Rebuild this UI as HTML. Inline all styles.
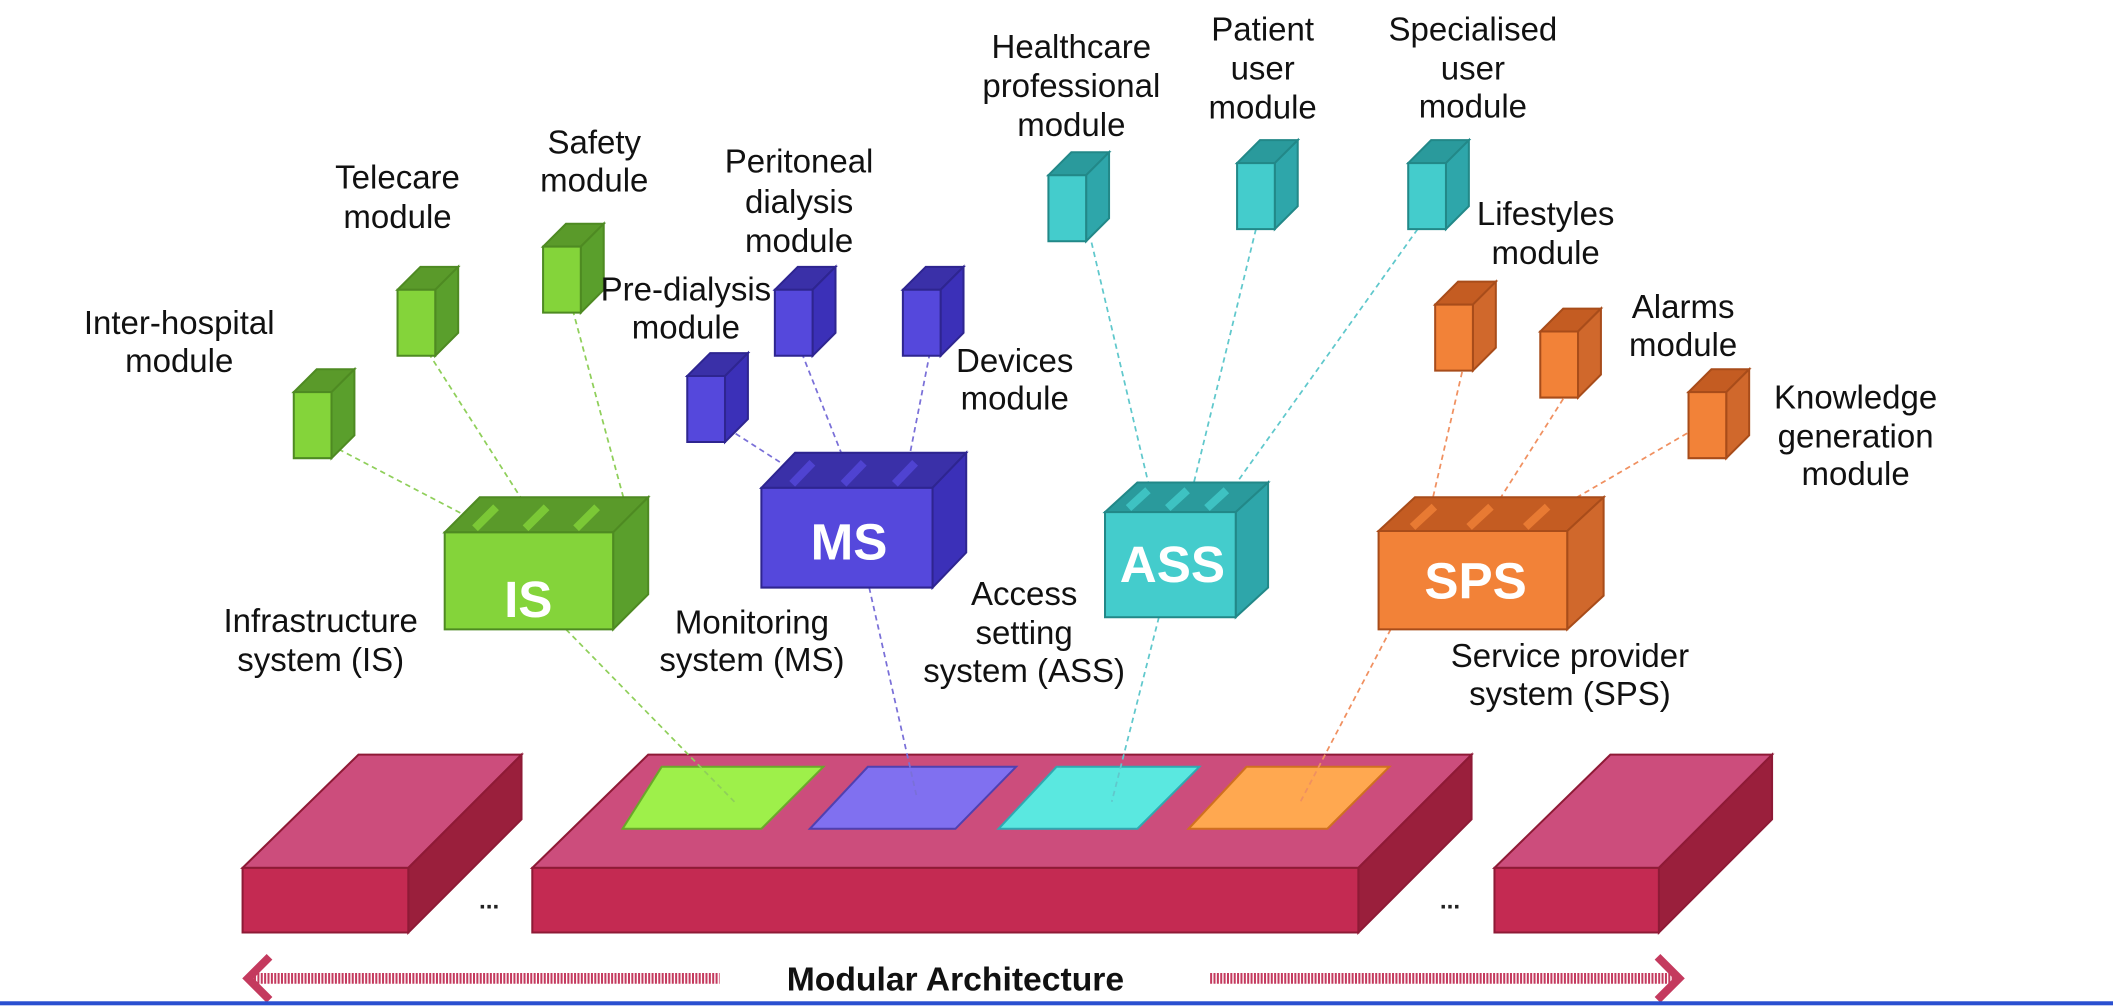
<!DOCTYPE html>
<html><head><meta charset="utf-8"><style>
html,body{margin:0;padding:0;background:#fff;}
svg{display:block;}
text{font-family:"Liberation Sans",sans-serif;}
.l{font-size:24.5px;fill:#111;text-anchor:middle;}
.b{font-size:38px;font-weight:bold;fill:#fff;text-anchor:middle;}
</style></head><body>
<svg id="s" width="2113" height="1006" viewBox="0 0 1568 746.5" xmlns="http://www.w3.org/2000/svg">
<g id="lines" fill="none" stroke-width="1.3" stroke-dasharray="4,3">
<g stroke="#8fcf5a">
<line x1="245" y1="330" x2="350" y2="385"/><line x1="318" y1="262" x2="392" y2="378"/><line x1="425" y1="230" x2="465" y2="378"/>
<line x1="420" y1="467" x2="545" y2="595"/></g>
<g stroke="#7a70d8">
<line x1="540" y1="318" x2="582" y2="345"/><line x1="595" y1="262" x2="625" y2="338"/><line x1="690" y1="262" x2="675" y2="338"/>
<line x1="645" y1="436" x2="680" y2="590"/></g>
<g stroke="#60c8cc">
<line x1="810" y1="180" x2="853" y2="362"/><line x1="932" y1="170" x2="885" y2="362"/><line x1="1052" y1="170" x2="915" y2="362"/>
<line x1="860" y1="458" x2="825" y2="595"/></g>
<g stroke="#f09060">
<line x1="1085" y1="276" x2="1062" y2="375"/><line x1="1160" y1="296" x2="1110" y2="375"/><line x1="1258" y1="318" x2="1160" y2="375"/>
<line x1="1032" y1="467" x2="965" y2="595"/></g>
</g>
<g id="cubes"></g>
<g id="plat"></g>
<text class="b" x="392" y="458">IS</text>
<text class="b" x="630" y="415">MS</text>
<text class="b" x="870" y="432">ASS</text>
<text class="b" x="1095" y="444">SPS</text>
<g>
<text class="l" x="133" y="248">Inter-hospital</text><text class="l" x="133" y="276">module</text>
<text class="l" x="295" y="140">Telecare</text><text class="l" x="295" y="169">module</text>
<text class="l" x="441" y="114">Safety</text><text class="l" x="441" y="142">module</text>
<text class="l" x="593" y="128">Peritoneal</text><text class="l" x="593" y="158">dialysis</text><text class="l" x="593" y="187">module</text>
<text class="l" x="509" y="223">Pre-dialysis</text><text class="l" x="509" y="251">module</text>
<text class="l" x="753" y="276">Devices</text><text class="l" x="753" y="304">module</text>
<text class="l" x="795" y="43">Healthcare</text><text class="l" x="795" y="72">professional</text><text class="l" x="795" y="101">module</text>
<text class="l" x="937" y="30">Patient</text><text class="l" x="937" y="59">user</text><text class="l" x="937" y="88">module</text>
<text class="l" x="1093" y="30">Specialised</text><text class="l" x="1093" y="59">user</text><text class="l" x="1093" y="87">module</text>
<text class="l" x="1147" y="167">Lifestyles</text><text class="l" x="1147" y="196">module</text>
<text class="l" x="1249" y="236">Alarms</text><text class="l" x="1249" y="264">module</text>
<text class="l" x="1377" y="303">Knowledge</text><text class="l" x="1377" y="332">generation</text><text class="l" x="1377" y="360">module</text>
<text class="l" x="238" y="469">Infrastructure</text><text class="l" x="238" y="498">system (IS)</text>
<text class="l" x="558" y="470">Monitoring</text><text class="l" x="558" y="498">system (MS)</text>
<text class="l" x="760" y="449">Access</text><text class="l" x="760" y="478">setting</text><text class="l" x="760" y="506">system (ASS)</text>
<text class="l" x="1165" y="495">Service provider</text><text class="l" x="1165" y="523">system (SPS)</text>
</g>
<text x="363" y="674" font-size="18" font-weight="bold" text-anchor="middle" fill="#222">...</text>
<text x="1076" y="674" font-size="18" font-weight="bold" text-anchor="middle" fill="#222">...</text>
<g stroke="#c43a5e" fill="none">
<line x1="186" y1="726" x2="534" y2="726" stroke-width="8" stroke-dasharray="1.5,1"/>
<line x1="898" y1="726" x2="1242" y2="726" stroke-width="8" stroke-dasharray="1.5,1"/>
<polyline points="200,710 184,726 200,742" stroke-width="6"/>
<polyline points="1230,710 1246,726 1230,742" stroke-width="6"/>
</g>
<text x="709" y="735" font-size="25" font-weight="bold" text-anchor="middle" fill="#111">Modular Architecture</text>
<rect x="0" y="743" width="1568" height="3" fill="#2a4fd0"/>
</svg>
<script>
var NS="http://www.w3.org/2000/svg";
function poly(g,pts,fill,stroke){var p=document.createElementNS(NS,"polygon");p.setAttribute("points",pts.map(function(a){return a.join(",")}).join(" "));p.setAttribute("fill",fill);if(stroke){p.setAttribute("stroke",stroke);p.setAttribute("stroke-width","1.5");}g.appendChild(p);}
function cube(g,x,y,w,h,dx,dy,c,stripes){
poly(g,[[x,y],[x+w,y],[x+w+dx,y+dy],[x+dx,y+dy]],c[1],c[3]);
poly(g,[[x+w,y],[x+w+dx,y+dy],[x+w+dx,y+h+dy],[x+w,y+h]],c[2],c[3]);
poly(g,[[x,y],[x+w,y],[x+w,y+h],[x,y+h]],c[0],c[3]);
if(stripes){for(var i=0;i<3;i++){var sx=x+w*(0.18+i*0.3);var l=document.createElementNS(NS,"line");l.setAttribute("x1",sx);l.setAttribute("y1",y-3);l.setAttribute("x2",sx+dx*0.6);l.setAttribute("y2",y+dy*0.6-3);l.setAttribute("stroke",c[0]);l.setAttribute("stroke-width","6");l.setAttribute("opacity","0.8");g.appendChild(l);}}
}
var cg=document.getElementById("cubes");
var G=["#84d43a","#5a9a2a","#5a9f2c","#4e8a22"],B=["#5548dc","#3a30a8","#3b30b8","#2e2590"],C=["#44cccc","#2a9a9c","#2ea6aa","#228888"],O=["#f28238","#c45c22","#d0682c","#a84c1a"];
[[218,291],[295,215],[403,183]].forEach(function(p){cube(cg,p[0],p[1],28,49,17,-17,G)});
[[510,279],[575,215],[670,215]].forEach(function(p){cube(cg,p[0],p[1],28,49,17,-17,B)});
[[778,130],[918,121],[1045,121]].forEach(function(p){cube(cg,p[0],p[1],28,49,17,-17,C)});
[[1065,226],[1143,246],[1253,291]].forEach(function(p){cube(cg,p[0],p[1],28,49,17,-17,O)});
cube(cg,330,395,125,72,26,-26,G,1);
cube(cg,565,362,127,74,25,-26,B,1);
cube(cg,820,380,97,78,24,-22,C,1);
cube(cg,1023,394,140,73,27,-25,O,1);
var pg=document.getElementById("plat");
var P=["#c42a52","#cc4d7c","#9a1f3c","#8e1a36"];
function blk(x1,x2){poly(pg,[[x1,644],[x2,644],[x2+84,560],[x1+86,560]],P[1],P[3]);poly(pg,[[x2,644],[x2+84,560],[x2+84,608],[x2,692]],P[2],P[3]);poly(pg,[[x1,644],[x2,644],[x2,692],[x1,692]],P[0],P[3]);}
blk(180,303);blk(395,1008);blk(1109,1231);
poly(pg,[[491,569],[611,569],[565,615],[462,615]],"#9ef04a","#6aa82a");
poly(pg,[[644,569],[754,569],[709,615],[601,615]],"#8070f0","#5040b0");
poly(pg,[[784,569],[890,569],[844,615],[741,615]],"#5ae8e0","#30a8b0");
poly(pg,[[925,569],[1031,569],[985,615],[882,615]],"#ffa850","#d07020");
var s=document.getElementById("s");s.insertBefore(pg,s.firstChild);
</script>
</body></html>
